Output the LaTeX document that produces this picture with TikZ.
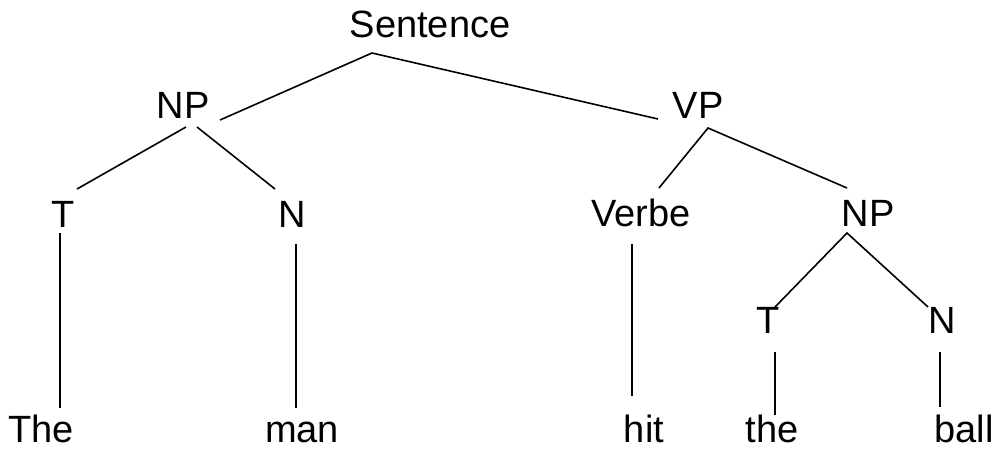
\documentclass[tikz,border=0pt]{standalone}
\usepackage{fontspec}
\setmainfont{Liberation Sans}
\begin{document}
\begin{tikzpicture}[x=1pt,y=-1pt,
  word/.style={anchor=base,inner sep=0pt,font=\fontsize{38}{44}\selectfont},
  branch/.style={line width=1.6pt,line cap=butt}]
\useasboundingbox (0,0) rectangle (1000,448);
% labels, placed by their baselines
\node[word] (S)   at (430,37)  {Sentence};
\node[word] (NPa) at (183,118) {NP};
\node[word] (VP)  at (698,118) {VP};
\node[word] (Ta)  at (63,227)  {T};
\node[word] (Na)  at (292,227) {N};
\node[word] (V)   at (641,226) {Verbe};
\node[word] (NPb) at (868,226) {NP};
\node[word] (Tb)  at (768,333) {T};
\node[word] (Nb)  at (942,333) {N};
\node[word] (w1)  at (41,442)  {The};
\node[word] (w2)  at (302,442) {man};
\node[word] (w3)  at (644,442) {hit};
\node[word] (w4)  at (772,442) {the};
\node[word] (w5)  at (964,442) {ball};
% attachment points of the branches
\coordinate (S-d)    at (372,53);
\coordinate (NPa-u)  at (220,120);
\coordinate (NPa-dl) at (186,127);
\coordinate (NPa-dr) at (197,127);
\coordinate (VP-u)   at (658,119);
\coordinate (VP-d)   at (708,128);
\coordinate (Ta-u)   at (77,189);
\coordinate (Ta-d)   at (60,233);
\coordinate (Na-u)   at (275,189);
\coordinate (Na-d)   at (296,244);
\coordinate (V-u)    at (659,188);
\coordinate (V-d)    at (632,244);
\coordinate (NPb-u)  at (847,188);
\coordinate (NPb-d)  at (847,233);
\coordinate (Tb-u)   at (775,307);
\coordinate (Tb-d)   at (775,352);
\coordinate (Nb-u)   at (928,307);
\coordinate (Nb-d)   at (940,352);
\coordinate (w1-u)   at (60,408);
\coordinate (w2-u)   at (296,408);
\coordinate (w3-u)   at (632,396);
\coordinate (w4-u)   at (775,415);
\coordinate (w5-u)   at (940,407);
% branches
\draw[branch] (NPa-u) -- (S-d) -- (VP-u);
\draw[branch] (Ta-u) -- (NPa-dl);
\draw[branch] (NPa-dr) -- (Na-u);
\draw[branch] (V-u) -- (VP-d) -- (NPb-u);
\draw[branch] (Tb-u) -- (NPb-d) -- (Nb-u);
\draw[branch] (Ta-d) -- (w1-u);
\draw[branch] (Na-d) -- (w2-u);
\draw[branch] (V-d) -- (w3-u);
\draw[branch] (Tb-d) -- (w4-u);
\draw[branch] (Nb-d) -- (w5-u);
\end{tikzpicture}
\end{document}
